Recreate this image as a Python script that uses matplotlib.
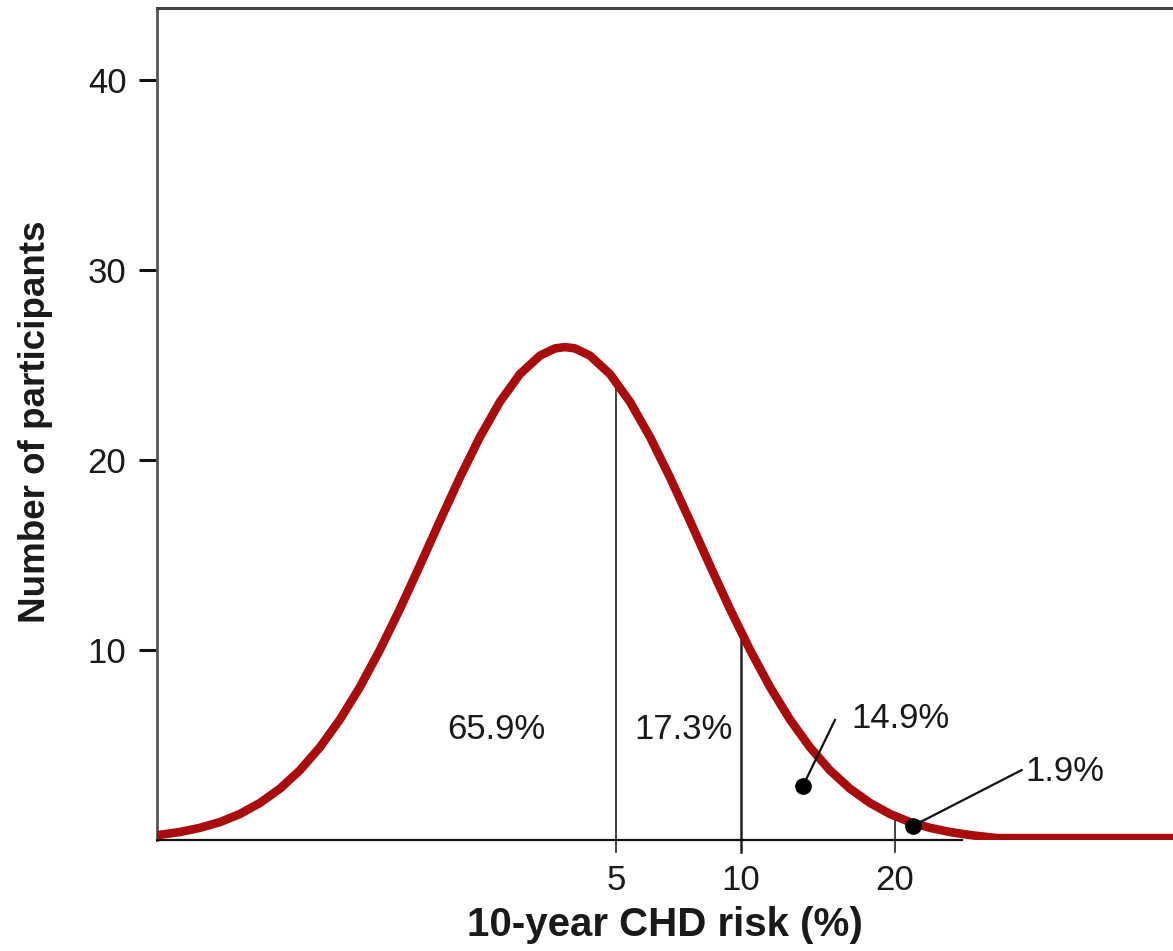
import numpy as np
import matplotlib
matplotlib.use("Agg")
import matplotlib.pyplot as plt

plt.rcParams['font.family'] = ['Liberation Sans', 'DejaVu Sans']

# distribution of 10-year CHD risk (%)
risk = [0.00915, 0.02095, 0.03752, 0.06163, 0.09494, 0.1391, 0.1960, 0.2675,
        0.3554, 0.4619, 0.5889, 0.7385, 0.9129, 1.114, 1.345, 1.607, 1.903,
        2.235, 2.605, 3.017, 3.354, 3.592, 3.843, 4.241, 4.816, 5.443, 6.126,
        6.866, 7.666, 8.530, 9.459, 10.46, 11.53, 12.67, 13.89, 15.19, 16.58,
        18.05, 19.61, 21.26, 23.01, 24.85, 26.80, 29.59, 52.97]
count = [0.25, 0.42, 0.64, 0.94, 1.37, 1.95, 2.70, 3.67, 4.88, 6.34, 8.05,
         10.01, 12.16, 14.45, 16.80, 19.09, 21.22, 23.07, 24.53, 25.50, 25.88,
         25.95, 25.88, 25.50, 24.53, 23.07, 21.22, 19.09, 16.80, 14.45, 12.16,
         10.01, 8.05, 6.34, 4.88, 3.67, 2.70, 1.95, 1.37, 0.94, 0.64, 0.42,
         0.26, 0.10, 0.10]

cutoffs = [5, 10, 20]
cutoff_tops = [24.2, 10.7, 1.4]
cutoff_widths = [1.2, 1.8, 1.2]

share_labels = ["65.9%", "17.3%"]
share_x = [2.18, 7.42]
share_y = [5.8, 5.8]

# labels pointing at small areas
note_labels = ["14.9%", "1.9%"]
note_dot = [(13.45, 2.84), (21.5, 0.74)]
note_end = [(15.53, 6.32), (32.3, 3.68)]
note_text = [(16.7, 6.37), (32.7, 3.58)]

xmin, xmax = 0.0092, 52.97
p = 0.3

fig = plt.figure(figsize=(11.73, 9.51), dpi=100)
ax = fig.add_axes([157 / 1173, 111 / 951, 1 - 157 / 1173, 832 / 951])
ax.set_xscale('function', functions=(lambda v: np.abs(v) ** p,
                                     lambda v: np.abs(v) ** (1 / p)))
ax.set_xlim(xmin, xmax)
ax.set_ylim(0, 43.8)

ax.plot(risk, count, color='#a80c0c', lw=6.2, solid_capstyle='round',
        solid_joinstyle='round', zorder=4)

# x axis line stops short of the right edge
ax.plot([xmin, 26.0], [0, 0], color='#111111', lw=1.6, zorder=3, clip_on=False)

for c, top, w in zip(cutoffs, cutoff_tops, cutoff_widths):
    ax.plot([c, c], [-0.63, top], color='#222222', lw=w, zorder=2, clip_on=False)

for lab, x, y in zip(share_labels, share_x, share_y):
    ax.text(x, y, lab, ha='center', va='center', fontsize=25, color='#1a1a1a')

for lab, (dx, dy), (ex, ey), (tx, ty) in zip(note_labels, note_dot, note_end, note_text):
    ax.plot([dx, ex], [dy, ey], color='#111111', lw=1.6, zorder=5)
    ax.plot(dx, dy, 'o', color='black', ms=11, zorder=6)
    ax.text(tx, ty, lab, ha='left', va='center', fontsize=25, color='#1a1a1a')

for s in ['right', 'bottom']:
    ax.spines[s].set_visible(False)
ax.spines['left'].set_color('#555555')
ax.spines['left'].set_linewidth(2)
ax.spines['top'].set_color('#444444')
ax.spines['top'].set_linewidth(2.2)

ax.set_yticks([10, 20, 30, 40])
ax.tick_params(axis='y', length=13, width=2.2, color='#111111', pad=9,
               labelsize=25, labelcolor='#1a1a1a')
ax.set_xticks(cutoffs)
ax.set_xticklabels([str(c) for c in cutoffs])
ax.xaxis.set_minor_locator(matplotlib.ticker.NullLocator())
ax.tick_params(axis='x', length=0, pad=17, labelsize=25, labelcolor='#1a1a1a')

fig.text(665 / 1173, 1 - 925 / 951, "10-year CHD risk (%)", ha='center',
         va='center', fontsize=29, fontweight='bold', color='#1a1a1a')
fig.text(36 / 1173, 1 - 422 / 951, "Number of participants", ha='center',
         va='center', rotation=90, fontsize=26.5, fontweight='bold',
         color='#1a1a1a')

fig.savefig("out.png", dpi=100)
